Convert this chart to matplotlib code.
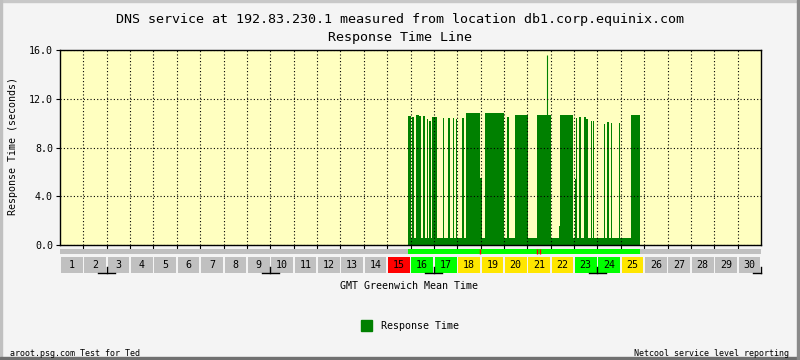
import matplotlib
matplotlib.use('Agg')
import matplotlib.pyplot as plt
from matplotlib.patches import Rectangle
import numpy as np

plt.rcParams['font.family'] = ['DejaVu Sans Mono']

# day boxes under the chart
days = list(range(1, 31))
day_status = (['none'] * 14 + ['red', 'green', 'green', 'yellow', 'yellow', 'yellow',
               'yellow', 'yellow', 'green', 'green', 'yellow'] + ['none'] * 5)
status_colors = {'none': '#c0c0c0', 'red': '#ff0000', 'green': '#00ff00', 'yellow': '#ffe600'}
week_marks = [2, 9, 16, 23, 30]

# response time (seconds), measured from day 14.89 to 24.84
data_start = 14.89
data_end = 24.84
low_level = 0.6
hi_start = [14.89, 15.07, 15.25, 15.38, 15.55, 15.71, 15.81, 15.92, 16.38, 16.61,
            16.81, 16.95, 17.22, 17.37, 17.97, 18.20, 19.14, 19.28, 19.48, 20.40,
            21.35, 21.40, 22.03, 22.08, 22.22, 22.44, 22.53, 22.71, 22.80, 23.27,
            23.43, 23.56, 23.92, 24.42]
hi_end = [15.03, 15.15, 15.35, 15.47, 15.64, 15.76, 15.87, 16.12, 16.44, 16.67,
          16.87, 17.00, 17.28, 17.97, 18.05, 18.99, 19.23, 19.32, 20.03, 21.00,
          21.40, 21.97, 22.08, 22.14, 22.28, 22.50, 22.59, 22.75, 22.84, 23.32,
          23.48, 23.62, 23.98, 24.84]
hi_level = [10.6, 10.5, 10.7, 10.6, 10.6, 10.3, 10.2, 10.5, 10.4, 10.4,
            10.4, 10.3, 10.4, 10.8, 5.5, 10.8, 10.5, 10.3, 10.7, 10.7,
            1.6, 10.7, 5.4, 10.4, 10.5, 10.5, 10.3, 10.2, 10.2, 9.9,
            10.1, 10.0, 10.0, 10.7]
spike_day = 20.85
spike_value = 15.6

# availability strip
avail_start = 14.89
avail_end = 24.82
outage_days = [17.97, 20.43, 20.54]

W, H = 800, 360
fig = plt.figure(figsize=(8, 3.6), dpi=100, facecolor='#f4f4f4')

def fx(x):
    return x / W

def fy(y):
    return 1 - y / H

# bevel border
fig.patches.append(Rectangle((0, fy(2)), 1, 2 / H, transform=fig.transFigure, color='#c8c8c8'))
fig.patches.append(Rectangle((0, 0), 2 / W, 1, transform=fig.transFigure, color='#c0c0c0'))
fig.patches.append(Rectangle((0, 0), 1, 3 / H, transform=fig.transFigure, color='#707070'))
fig.patches.append(Rectangle((fx(797), 0), 3 / W, 1, transform=fig.transFigure, color='#8a8a8a'))

ax = fig.add_axes([fx(60), fy(245), 701 / W, 195 / H])
ax.set_facecolor('#ffffc0')

xs = [data_start]
ys = [low_level]
for s, e, v in zip(hi_start, hi_end, hi_level):
    xs += [s, e]
    ys += [v, low_level]
xs.append(data_end)
ys.append(low_level)
ax.fill_between(xs, 0, ys, step='post', color='#008000', lw=0)
ax.vlines([spike_day], 0, spike_value, color='#008000', lw=0.8)

ax.set_xlim(0, 30)
ax.set_ylim(0, 16)
ax.set_yticks([0, 4, 8, 12, 16])
ax.set_yticklabels(['%.1f' % v for v in [0, 4, 8, 12, 16]], fontsize=7.2)
ax.set_xticks(range(1, 30))
ax.tick_params(axis='x', labelbottom=False, direction='out', length=3, width=0.8)
ax.tick_params(axis='y', direction='out', length=3, width=0.8, pad=2)
ax.set_axisbelow(False)
ax.grid(True, color='black', linestyle=(0, (1, 2)), lw=0.8)
for sp in ax.spines.values():
    sp.set_linewidth(1.0)
    sp.set_color('black')

# strip and day boxes
ax2 = fig.add_axes([fx(60), fy(276), 701 / W, 30 / H])
ax2.set_xlim(0, 30)
ax2.set_ylim(276, 246)
ax2.axis('off')
ax2.add_patch(Rectangle((0, 249), 30, 4.5, color='#c0c0c0', lw=0))
ax2.add_patch(Rectangle((avail_start, 249), avail_end - avail_start, 4.5, color='#00ff00', lw=0))
ax2.vlines(outage_days, 249, 253.5, color='#ff0000', lw=1)
ax2.bar(np.array(days) - 1 + 0.04, 16.5, bottom=256.8, width=0.93, align='edge',
        color=[status_colors[s] for s in day_status], lw=0)
for d in days:
    ax2.text(d - 0.5, 265.3, str(d), ha='center', va='center', fontsize=7.2)
for w in week_marks:
    ax2.plot([w, w], [267, 273.3], color='black', lw=1, clip_on=False)
    right = w + 0.36 if w < 30 else w
    ax2.plot([w - 0.36, right], [273.3, 273.3], color='black', lw=1, clip_on=False)

fig.text(fx(400), fy(20), 'DNS service at 192.83.230.1 measured from location db1.corp.equinix.com',
         ha='center', va='center', fontsize=9.6)
fig.text(fx(400), fy(38), 'Response Time Line', ha='center', va='center', fontsize=9.6)
fig.text(fx(13), fy(146), 'Response Time (seconds)', rotation=90, ha='center', va='center',
         fontsize=7.2)
fig.text(fx(409), fy(286), 'GMT Greenwich Mean Time', ha='center', va='center', fontsize=7.2)

# legend
fig.patches.append(Rectangle((fx(361), fy(331)), 11 / W, 11 / H, transform=fig.transFigure,
                             color='#008000'))
fig.text(fx(381), fy(326), 'Response Time', ha='left', va='center', fontsize=7.2)

fig.text(fx(10), fy(353), 'aroot.psg.com Test for Ted', ha='left', va='center', fontsize=6)
fig.text(fx(789), fy(353), 'Netcool service level reporting', ha='right', va='center', fontsize=6)

fig.savefig('out.png', dpi=100, facecolor=fig.get_facecolor())
